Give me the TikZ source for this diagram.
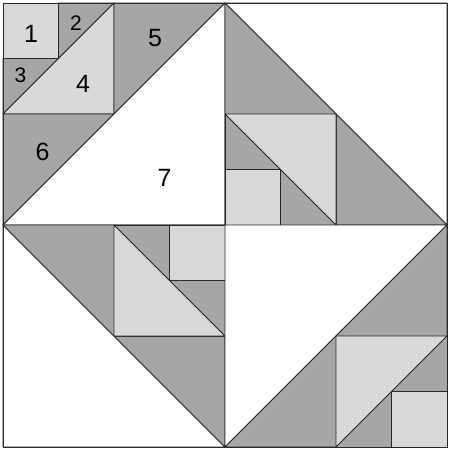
\documentclass[tikz,border=0pt]{standalone}
\usepackage{fontspec}
\setmainfont{Liberation Sans}
\definecolor{lightp}{RGB}{217,217,217}
\definecolor{darkp}{RGB}{166,166,166}
\definecolor{edge}{RGB}{40,40,40}
\begin{document}
\begin{tikzpicture}[x=1pt,y=-1pt,
  piece/.style={draw=edge,line width=0.9pt,line join=round},
  lt/.style={piece,fill=lightp},
  dk/.style={piece,fill=darkp},
  wt/.style={piece,fill=white},
  big/.style={font=\fontsize{25}{30}\selectfont,inner sep=0pt},
  small/.style={font=\fontsize{21}{25}\selectfont,inner sep=0pt}]
\fill[white] (0,0) rectangle (450,450);
\useasboundingbox (0,0) rectangle (450,450);
% top-left quadrant
\filldraw[lt] (3,3) rectangle (58.5,58.5);
\filldraw[dk] (58.5,3) -- (114,3) -- (58.5,58.5) -- cycle;
\filldraw[dk] (3,58.5) -- (58.5,58.5) -- (3,114) -- cycle;
\filldraw[lt] (114,3) -- (114,114) -- (3,114) -- cycle;
\filldraw[dk] (114,3) -- (225,3) -- (114,114) -- cycle;
\filldraw[dk] (3,114) -- (114,114) -- (3,225) -- cycle;
\filldraw[wt] (225,3) -- (225,225) -- (3,225) -- cycle;
% top-right quadrant
\filldraw[wt] (225,3) -- (447,3) -- (447,225) -- cycle;
\filldraw[dk] (225,3) -- (447,225) -- (225,225) -- cycle;
\filldraw[dk] (225,114) rectangle (336,225);
\filldraw[lt] (225,114) -- (336,114) -- (336,225) -- cycle;
\filldraw[lt] (225,169.5) rectangle (280.5,225);
% bottom-left quadrant
\filldraw[wt] (3,225) -- (3,447) -- (225,447) -- cycle;
\filldraw[dk] (3,225) -- (225,225) -- (225,447) -- cycle;
\filldraw[dk] (114,225) rectangle (225,336);
\filldraw[lt] (114,225) -- (114,336) -- (225,336) -- cycle;
\filldraw[lt] (169.5,225) rectangle (225,280.5);
% bottom-right quadrant
\filldraw[wt] (225,225) -- (447,225) -- (225,447) -- cycle;
\filldraw[dk] (447,225) -- (447,447) -- (225,447) -- cycle;
\filldraw[dk] (336,336) rectangle (447,447);
\filldraw[lt] (336,336) -- (447,336) -- (336,447) -- cycle;
\filldraw[lt] (391.5,391.5) rectangle (447,447);
% outer frame
\draw[piece] (3,3) rectangle (447,447);
% labels
\node[big] (l1) at (31,34) {1};
\node[small] (l2) at (76,23.5) {2};
\node[small] (l3) at (20.5,75.5) {3};
\node[big] (l4) at (83,84) {4};
\node[big] (l5) at (155,38) {5};
\node[big] (l6) at (42.5,152) {6};
\node[big] (l7) at (164.5,177.5) {7};
\end{tikzpicture}
\end{document}
